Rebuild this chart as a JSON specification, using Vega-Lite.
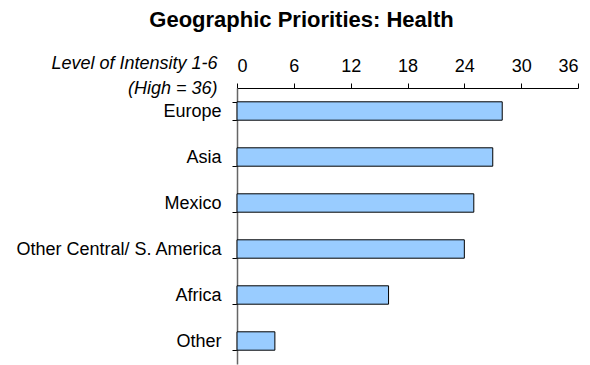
{
  "$schema": "https://vega.github.io/schema/vega-lite/v6.json",
  "width": 341,
  "height": 276,
  "autosize": "none",
  "padding": {"left": 237, "top": 88, "right": 12, "bottom": 1},
  "background": "white",
  "config": {"view": {"stroke": null}, "font": "Liberation Sans"},
  "title": {
    "text": "Geographic Priorities:  Health",
    "font": "Liberation Sans",
    "fontSize": 22,
    "fontWeight": "bold",
    "color": "black",
    "anchor": "middle",
    "dx": -106,
    "dy": -18
  },
  "data": {
    "values": [
      {"region": "Europe", "value": 28},
      {"region": "Asia", "value": 27},
      {"region": "Mexico", "value": 25},
      {"region": "Other Central/ S. America", "value": 24},
      {"region": "Africa", "value": 16},
      {"region": "Other", "value": 4}
    ]
  },
  "mark": {"type": "bar", "fill": "#99CCFF", "stroke": "black", "strokeWidth": 1},
  "encoding": {
    "y": {
      "field": "region",
      "type": "nominal",
      "sort": null,
      "scale": {"paddingInner": 0.6, "paddingOuter": 0.3},
      "axis": {
        "title": null,
        "tickBand": "extent",
        "tickSize": 5,
        "tickColor": "black",
        "domainColor": "#666666",
        "domainWidth": 1.5,
        "labelFontSize": 18,
        "labelColor": "black",
        "labelPadding": 11,
        "labelLimit": 0,
        "labelFont": "Liberation Sans"
      }
    },
    "x": {
      "field": "value",
      "type": "quantitative",
      "scale": {"domain": [0, 36], "nice": false},
      "axis": {
        "orient": "top",
        "values": [0, 6, 12, 18, 24, 30, 36],
        "grid": false,
        "tickSize": 5,
        "tickColor": "black",
        "domainColor": "black",
        "labelFontSize": 18,
        "labelColor": "black",
        "labelPadding": 8,
        "labelFont": "Liberation Sans",
        "title": ["Level of Intensity 1-6", "(High = 36)"],
        "titleFont": "Liberation Sans",
        "titleFontSize": 18,
        "titleFontStyle": "italic",
        "titleFontWeight": "normal",
        "titleColor": "black",
        "titleAlign": "right",
        "titleBaseline": "alphabetic",
        "titleLineHeight": 25,
        "titleX": -20,
        "titleY": -20,
        "titleAngle": 0
      }
    }
  }
}
